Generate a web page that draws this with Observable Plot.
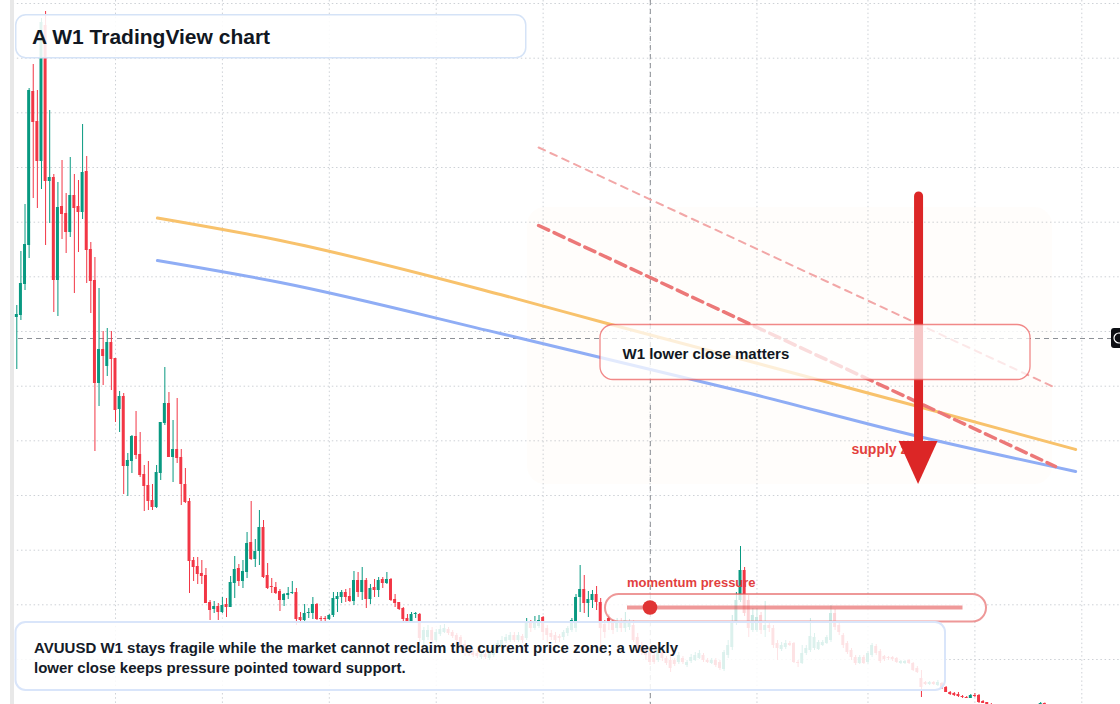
<!DOCTYPE html>
<html>
<head>
<meta charset="utf-8">
<script src="https://cdn.jsdelivr.net/npm/d3@7"></script>
<script src="https://cdn.jsdelivr.net/npm/@observablehq/plot@0.6"></script>
<style>
html,body{margin:0;padding:0;background:#fff;}
#wrap{position:relative;width:1120px;height:704px;overflow:hidden;}
#wrap svg{display:block;}
</style>
</head>
<body>
<div id="wrap"></div>
<script>
// ---------- data (weekly candles, price units) ----------
const opens = [
40.3,40.5,43.6,47.5,62.9,59.9,55.9,69.5,53.9,54.3,
44.0,51.4,50.7,48.8,52.5,51.4,50.8,54.9,47.1,44.0,
33.7,37.1,35.4,37.8,36.2,31.1,32.4,25.4,25.9,28.4,
26.6,24.6,23.5,22.0,21.3,24.7,29.7,31.7,26.3,27.1,
26.3,23.6,21.9,16.0,15.4,14.7,14.5,11.8,11.1,11.4,
10.8,11.6,11.3,13.7,15.2,13.9,14.8,17.8,16.1,16.9,
19.3,14.5,13.4,13.3,12.9,12.0,12.5,12.7,12.8,10.3,
10.0,10.7,10.7,11.6,10.2,10.2,10.1,10.5,12.1,12.3,
12.8,12.4,11.9,14.0,12.8,14.0,12.1,13.3,13.0,14.1,
13.7,14.1,12.1,11.8,11.2,10.2,9.8,10.6,10.6,8.0,
8.3,9.0,8.0,8.6,8.8,9.1,8.8,8.5,8.3,7.6,
7.1,6.9,6.7,6.3,6.6,6.2,6.5,7.2,7.3,7.9,
8.0,8.5,8.0,8.4,8.2,9.8,9.2,9.4,10.3,9.2,
8.7,8.5,8.4,8.3,8.7,9.0,9.2,12.3,13.1,11.7,
12.0,12.6,11.8,9.6,10.2,9.7,9.2,9.8,9.2,9.3,
9.5,8.3,7.5,7.2,6.8,6.5,6.0,6.8,6.2,6.0,
6.0,5.8,6.2,5.5,5.9,6.0,6.2,6.5,6.0,5.7,
6.0,5.8,5.1,6.5,7.3,9.8,12.0,15.0,12.0,9.0,
9.0,10.5,9.0,9.5,9.2,7.7,7.1,7.3,7.7,7.7,
5.8,5.7,6.7,7.0,7.2,7.1,7.5,7.7,8.0,10.7,
9.5,8.5,7.7,7.0,6.3,5.7,6.3,5.8,6.5,7.4,
6.9,6.4,6.3,6.3,6.2,5.7,5.7,6.0,5.7,5.2,
4.2,3.8,3.6,3.8,3.5,3.7,3.3,2.8,2.7,2.6,
2.4,2.3,2.2,2.5,2.5,1.9,1.8,1.6,1.4,1.2,
1.3,1.1,1.0,1.1,0.9,0.8,1.0,1.1,1.3,1.4,1.7
];
const highs = [
41.5,46.9,51.6,63.2,65.6,63.0,70.2,70.9,61.0,54.6,
53.8,56.0,52.7,56.3,54.6,54.0,59.6,56.4,47.8,46.3,
43.2,38.9,39.2,38.9,36.2,32.9,32.7,26.7,28.5,30.9,
28.8,25.5,25.9,23.6,25.5,29.8,35.3,32.8,30.0,32.2,
27.1,25.2,22.2,16.3,16.3,16.0,15.2,12.0,11.9,11.7,
12.3,12.2,14.4,16.4,15.6,16.0,18.8,21.9,18.1,21.0,
20.0,15.7,14.2,13.8,13.1,12.7,13.3,13.9,13.2,10.8,
11.6,11.2,12.3,11.7,10.4,10.4,10.6,12.8,12.8,13.0,
13.1,13.2,14.9,14.8,15.3,14.2,13.6,14.1,14.3,14.3,
14.8,14.2,12.6,11.8,11.3,10.6,10.8,10.8,10.7,9.3,
9.5,9.3,9.1,9.5,9.6,9.3,9.0,8.7,8.5,8.0,
7.3,7.1,6.9,6.8,6.8,7.0,7.6,8.0,8.4,8.6,
8.8,8.8,8.8,8.6,10.2,10.0,10.4,10.5,10.4,9.5,
9.0,8.8,8.6,9.0,9.4,10.2,12.6,15.5,14.5,12.9,
13.0,13.4,12.2,10.0,10.6,10.0,10.2,10.2,10.8,10.1,
10.0,8.7,7.8,7.5,7.1,6.8,7.3,7.0,6.4,6.4,
6.2,6.8,6.4,6.0,6.6,6.8,7.0,6.7,6.2,6.2,
6.2,6.0,7.0,8.0,10.5,12.8,17.4,15.3,12.5,11.2,
11.2,10.8,11.9,9.8,9.5,8.0,7.8,8.0,7.9,7.8,
6.0,7.5,7.5,10.2,8.7,8.0,8.0,8.5,11.5,11.1,
9.7,8.7,7.9,7.2,6.5,6.5,6.5,6.9,7.7,7.6,
7.1,6.5,6.4,6.4,6.3,6.0,6.0,6.1,5.8,5.4,
5.0,3.9,3.9,3.9,4.0,3.8,3.4,2.9,2.8,2.8,
2.5,2.4,2.6,2.7,2.6,2.0,1.8,1.7,1.5,1.4,
1.4,1.2,1.2,1.2,1.0,1.1,1.3,1.5,1.6,1.8,1.75
];
const lows = [
35.1,40.0,43.0,46.2,52.2,51.2,53.1,47.5,49.7,40.8,
40.4,48.1,46.7,48.3,42.7,46.8,50.1,43.7,40.7,26.9,
31.4,33.5,34.4,33.0,29.8,28.8,22.6,22.4,24.7,26.1,
24.3,20.9,21.0,21.0,21.2,24.0,29.5,26.3,23.8,25.7,
21.5,21.7,12.7,13.9,13.6,13.6,11.7,10.0,10.7,10.0,
10.7,10.3,11.3,12.2,13.4,13.2,14.2,16.0,15.3,15.5,
14.2,13.1,12.7,12.6,10.9,11.4,12.1,12.6,9.5,9.7,
9.8,10.2,10.1,10.0,9.9,9.9,10.0,10.3,10.8,11.7,
11.8,11.8,11.5,12.3,12.0,11.2,11.6,12.3,12.3,13.2,
13.6,11.9,11.3,11.0,9.9,9.7,9.7,10.2,7.8,7.5,
8.0,7.7,7.8,8.4,8.7,8.5,8.2,7.8,7.0,6.4,
6.4,6.3,6.2,6.1,6.1,6.0,6.3,7.0,7.2,7.7,
7.8,7.8,7.8,7.7,8.0,8.8,9.0,9.2,8.0,7.8,
8.0,7.7,7.8,8.0,8.4,8.8,8.8,10.8,10.7,10.3,
11.2,11.0,7.3,8.2,9.0,8.6,8.8,8.8,8.8,9.0,
7.8,7.0,6.5,6.0,5.5,5.6,5.8,5.9,5.5,4.8,
5.4,5.6,5.6,5.3,5.7,5.9,6.1,5.8,5.7,5.6,
5.3,5.0,4.9,6.2,7.0,9.5,11.8,10.4,8.3,8.8,
8.8,8.6,8.3,8.8,7.2,6.0,6.9,7.1,7.4,5.7,
5.3,5.6,6.5,6.8,7.0,7.0,7.4,7.6,7.8,9.0,
8.5,7.2,6.6,6.0,5.5,5.6,5.6,5.6,6.3,6.5,
5.7,5.9,6.0,5.9,5.7,5.6,5.6,5.6,4.9,4.7,
2.3,3.5,3.5,3.5,3.4,3.1,2.8,2.5,2.4,2.3,
2.2,2.2,2.2,2.3,1.7,1.7,1.6,1.3,1.1,1.0,
0.9,0.8,0.9,0.8,0.6,0.7,0.9,1.1,1.2,1.4,1.4
];
const closes = [
40.6,43.7,47.6,63.0,59.8,55.9,69.8,53.9,54.3,44.0,
51.3,50.6,48.8,52.5,51.2,50.8,54.8,47.0,43.9,33.7,
37.1,36.4,37.8,36.1,31.0,32.4,25.4,26.0,28.4,26.5,
24.5,23.4,21.9,21.3,24.8,29.8,31.7,26.3,27.1,26.2,
23.6,21.8,15.9,15.3,14.6,14.4,11.7,11.0,11.4,10.8,
11.5,11.3,13.8,15.1,13.9,14.9,17.7,16.1,16.9,19.3,
14.3,13.2,13.3,12.7,12.0,12.6,12.7,12.8,10.1,10.0,
10.7,10.8,11.6,10.1,10.1,10.1,10.5,12.2,12.4,12.8,
12.3,11.9,14.0,12.8,14.0,12.1,13.2,13.0,14.0,13.7,
14.1,12.0,11.7,11.1,10.1,9.8,10.6,10.7,8.2,9.0,
9.0,8.0,8.8,9.1,9.2,8.7,8.4,8.0,7.5,7.0,
6.7,6.5,6.4,6.6,6.3,6.8,7.3,7.7,8.0,8.3,
8.5,8.0,8.5,8.0,9.9,9.2,9.8,10.0,8.8,8.5,
8.3,8.0,8.2,8.8,9.2,10.0,12.3,13.1,11.7,12.1,
12.6,11.8,9.2,8.8,9.8,9.0,9.7,9.2,10.0,9.8,
8.0,7.3,6.8,6.5,5.8,5.8,7.0,6.2,5.7,5.2,
5.6,6.5,5.8,5.8,6.3,6.5,6.7,6.0,5.8,6.0,
5.5,5.2,6.8,7.5,9.8,12.0,15.0,10.7,9.2,10.5,
10.3,9.0,9.5,9.2,7.5,7.2,7.5,7.7,7.5,5.8,
5.7,6.7,7.2,8.4,8.3,7.8,7.8,8.3,10.7,9.3,
8.8,7.5,6.8,6.3,5.7,6.3,5.7,6.7,7.5,6.7,
5.9,6.1,6.2,6.1,5.8,5.9,5.9,5.7,5.0,4.8,
3.3,3.6,3.8,3.6,3.8,3.2,2.8,2.6,2.5,2.4,
2.3,2.2,2.5,2.4,1.8,1.7,1.6,1.4,1.2,1.3,
1.1,1.0,1.1,0.9,0.8,1.0,1.1,1.3,1.4,1.7,1.5
];

// moving averages (week index, value)
const maOrangeWeeks  = [34.2, 64.1, 117.6, 143.6, 178.4, 218.3, 257.5];
const maOrangeValues = [50.25, 48.0, 42.6, 39.7, 35.9, 31.5, 27.1];
const maBlueWeeks    = [34.2, 64.1, 117.6, 178.4, 218.3, 257.5];
const maBlueValues   = [46.0, 43.8, 38.7, 32.7, 28.5, 24.9];

// trendlines
const trendStrong = [{i: 126.9, v: 49.5}, {i: 252.6, v: 25.4}];
const trendFaint  = [{i: 126.9, v: 57.3}, {i: 251.9, v: 33.4}];

// supply zone box
const zone = [{i1: 124.2, i2: 251.9, p1: 51.3, p2: 23.6}];

// arrow (down) : shaft and head
const arrowShaft = [{i: 219.3, from: 52.4, to: 27.3}];
const arrowHead = [
  {i: 214.56, base: 27.9, tip: 27.9},
  {i: 219.3,  base: 27.9, tip: 23.6},
  {i: 224.04, base: 27.9, tip: 27.9}
];
const supplyLabel = [{i: 203.0, p: 26.7, text: "supply zone"}];

// crosshair
const crossWeek = [154.07];
const crossPrice = [38.2];

// grid ticks
const gridWeeks = [24, 50, 76, 102, 128, 154, 180, 207, 233, 259];
const gridPrices = [71.7, 66.23, 60.77, 55.3, 49.83, 44.37, 38.9, 33.43, 27.97, 22.5, 17.03, 11.57, 6.1];

// texts
const titleText = "A W1 TradingView chart";
const captionLines = [
  "AVUUSD W1 stays fragile while the market cannot reclaim the current price zone; a weekly",
  "lower close keeps pressure pointed toward support."
];
const noteText = "W1 lower close matters";
const momentumText = "momentum pressure";

// ---------- build ----------
const GREEN = "#089981", RED = "#f23645";
const FONT = "'Liberation Sans', Arial, Helvetica, sans-serif";

const candles = opens.map((o, i) => ({i, open: o, high: highs[i], low: lows[i], close: closes[i]}));
const colorOf = d => d.close >= d.open ? GREEN : RED;
const maOrange = maOrangeWeeks.map((w, k) => ({i: w, v: maOrangeValues[k]}));
const maBlue = maBlueWeeks.map((w, k) => ({i: w, v: maBlueValues[k]}));

const svg = Plot.plot({
  width: 1120,
  height: 704,
  margin: 0,
  x: {domain: [-3.964, 268.41], axis: null},
  y: {domain: [1.6, 72], axis: null},
  color: {type: "identity"},
  style: {background: "#ffffff", fontFamily: FONT},
  marks: [
    Plot.ruleY(gridPrices, {stroke: "#cdd1d6", strokeWidth: 1, strokeDasharray: "1.5,2.7"}),
    Plot.ruleX(gridWeeks, {stroke: "#cdd1d6", strokeWidth: 1, strokeDasharray: "1.5,2.7"}),
    Plot.rect(zone, {x1: "i1", x2: "i2", y1: "p1", y2: "p2", rx: 18, fill: "#f59e4b", fillOpacity: 0.025}),
    Plot.ruleX(crossWeek, {stroke: "#8c9096", strokeWidth: 1, strokeDasharray: "5,4"}),
    Plot.ruleY(crossPrice, {stroke: "#8c9096", strokeWidth: 1, strokeDasharray: "5,4"}),
    Plot.ruleX(candles, {x: "i", y1: "low", y2: "high", stroke: colorOf, strokeWidth: 1}),
    Plot.rect(candles, {x1: d => d.i - 0.36, x2: d => d.i + 0.36, y1: "open", y2: "close", fill: colorOf}),
    Plot.line(maOrange, {x: "i", y: "v", stroke: "#f8c26c", strokeWidth: 3, curve: "monotone-x"}),
    Plot.line(maBlue, {x: "i", y: "v", stroke: "#8fadf5", strokeWidth: 3, curve: "monotone-x"}),
    Plot.line(trendFaint, {x: "i", y: "v", stroke: "#f2a7a7", strokeWidth: 2, strokeDasharray: "7,6"}),
    Plot.line(trendStrong, {x: "i", y: "v", stroke: "#ec7878", strokeWidth: 3.5, strokeDasharray: "11,6"}),
    Plot.text(supplyLabel, {x: "i", y: "p", text: "text", textAnchor: "start", lineAnchor: "bottom",
      fill: "#e3403b", fontSize: 14, fontWeight: 700, fontFamily: FONT}),
    Plot.ruleX(arrowShaft, {x: "i", y1: "from", y2: "to", stroke: "#dc2626", strokeWidth: 9, strokeLinecap: "round"}),
    Plot.areaY(arrowHead, {x: "i", y1: "base", y2: "tip", fill: "#dc2626", curve: "linear"})
  ]
});

document.getElementById("wrap").appendChild(svg);

// ---------- overlays (annotation layer) ----------
const g = d3.select(svg).append("g").attr("font-family", FONT).attr("text-anchor", "start");

// left panel edge
g.append("rect").attr("x", 0).attr("y", 0).attr("width", 10).attr("height", 704).attr("fill", "#ffffff");
g.append("rect").attr("x", 10).attr("y", 0).attr("width", 4).attr("height", 704).attr("fill", "#e8e8e8");

// right price label stub
g.append("rect").attr("x", 1111).attr("y", 328).attr("width", 20).attr("height", 20).attr("rx", 3).attr("fill", "#0d0f14");
g.append("circle").attr("cx", 1119).attr("cy", 338).attr("r", 5).attr("fill", "none").attr("stroke", "#ffffff").attr("stroke-width", 1.2);

// note box
g.append("rect").attr("x", 600).attr("y", 324.5).attr("width", 430).attr("height", 55).attr("rx", 13)
  .attr("fill", "rgba(255,255,255,0.74)").attr("stroke", "rgba(236,92,92,0.72)").attr("stroke-width", 1.3);
g.append("text").attr("x", 622.5).attr("y", 359).attr("font-size", 15).attr("font-weight", 700)
  .attr("text-anchor", "start").attr("fill", "#111722").text(noteText);

// momentum pill
g.append("text").attr("x", 627).attr("y", 587).attr("font-size", 13).attr("font-weight", 700)
  .attr("text-anchor", "start").attr("fill", "#e23f3f").text(momentumText);
g.append("rect").attr("x", 605).attr("y", 594).attr("width", 381).attr("height", 27.5).attr("rx", 13.75)
  .attr("fill", "rgba(255,255,255,0.78)").attr("stroke", "rgba(226,84,84,0.6)").attr("stroke-width", 2);
g.append("line").attr("x1", 627).attr("x2", 962.5).attr("y1", 607.5).attr("y2", 607.5)
  .attr("stroke", "rgba(226,70,70,0.55)").attr("stroke-width", 4);
g.append("circle").attr("cx", 650).attr("cy", 607.5).attr("r", 7.3).attr("fill", "#e03434");

// caption box
g.append("rect").attr("x", 15.5).attr("y", 622).attr("width", 929.5).attr("height", 68).attr("rx", 10)
  .attr("fill", "rgba(255,255,255,0.86)").attr("stroke", "#d9e5fa").attr("stroke-width", 2);
captionLines.forEach((t, k) => {
  g.append("text").attr("x", 34).attr("y", 653 + k * 20).attr("font-size", 15).attr("font-weight", 700)
    .attr("text-anchor", "start").attr("fill", "#151b28").text(t);
});

// title box
g.append("rect").attr("x", 15.75).attr("y", 14.75).attr("width", 510).attr("height", 43).attr("rx", 10)
  .attr("fill", "rgba(255,255,255,0.88)").attr("stroke", "#d5e3f7").attr("stroke-width", 1.5);
g.append("text").attr("x", 32).attr("y", 44).attr("font-size", 21).attr("font-weight", 700)
  .attr("text-anchor", "start").attr("fill", "#111722").text(titleText);
</script>
</body>
</html>
